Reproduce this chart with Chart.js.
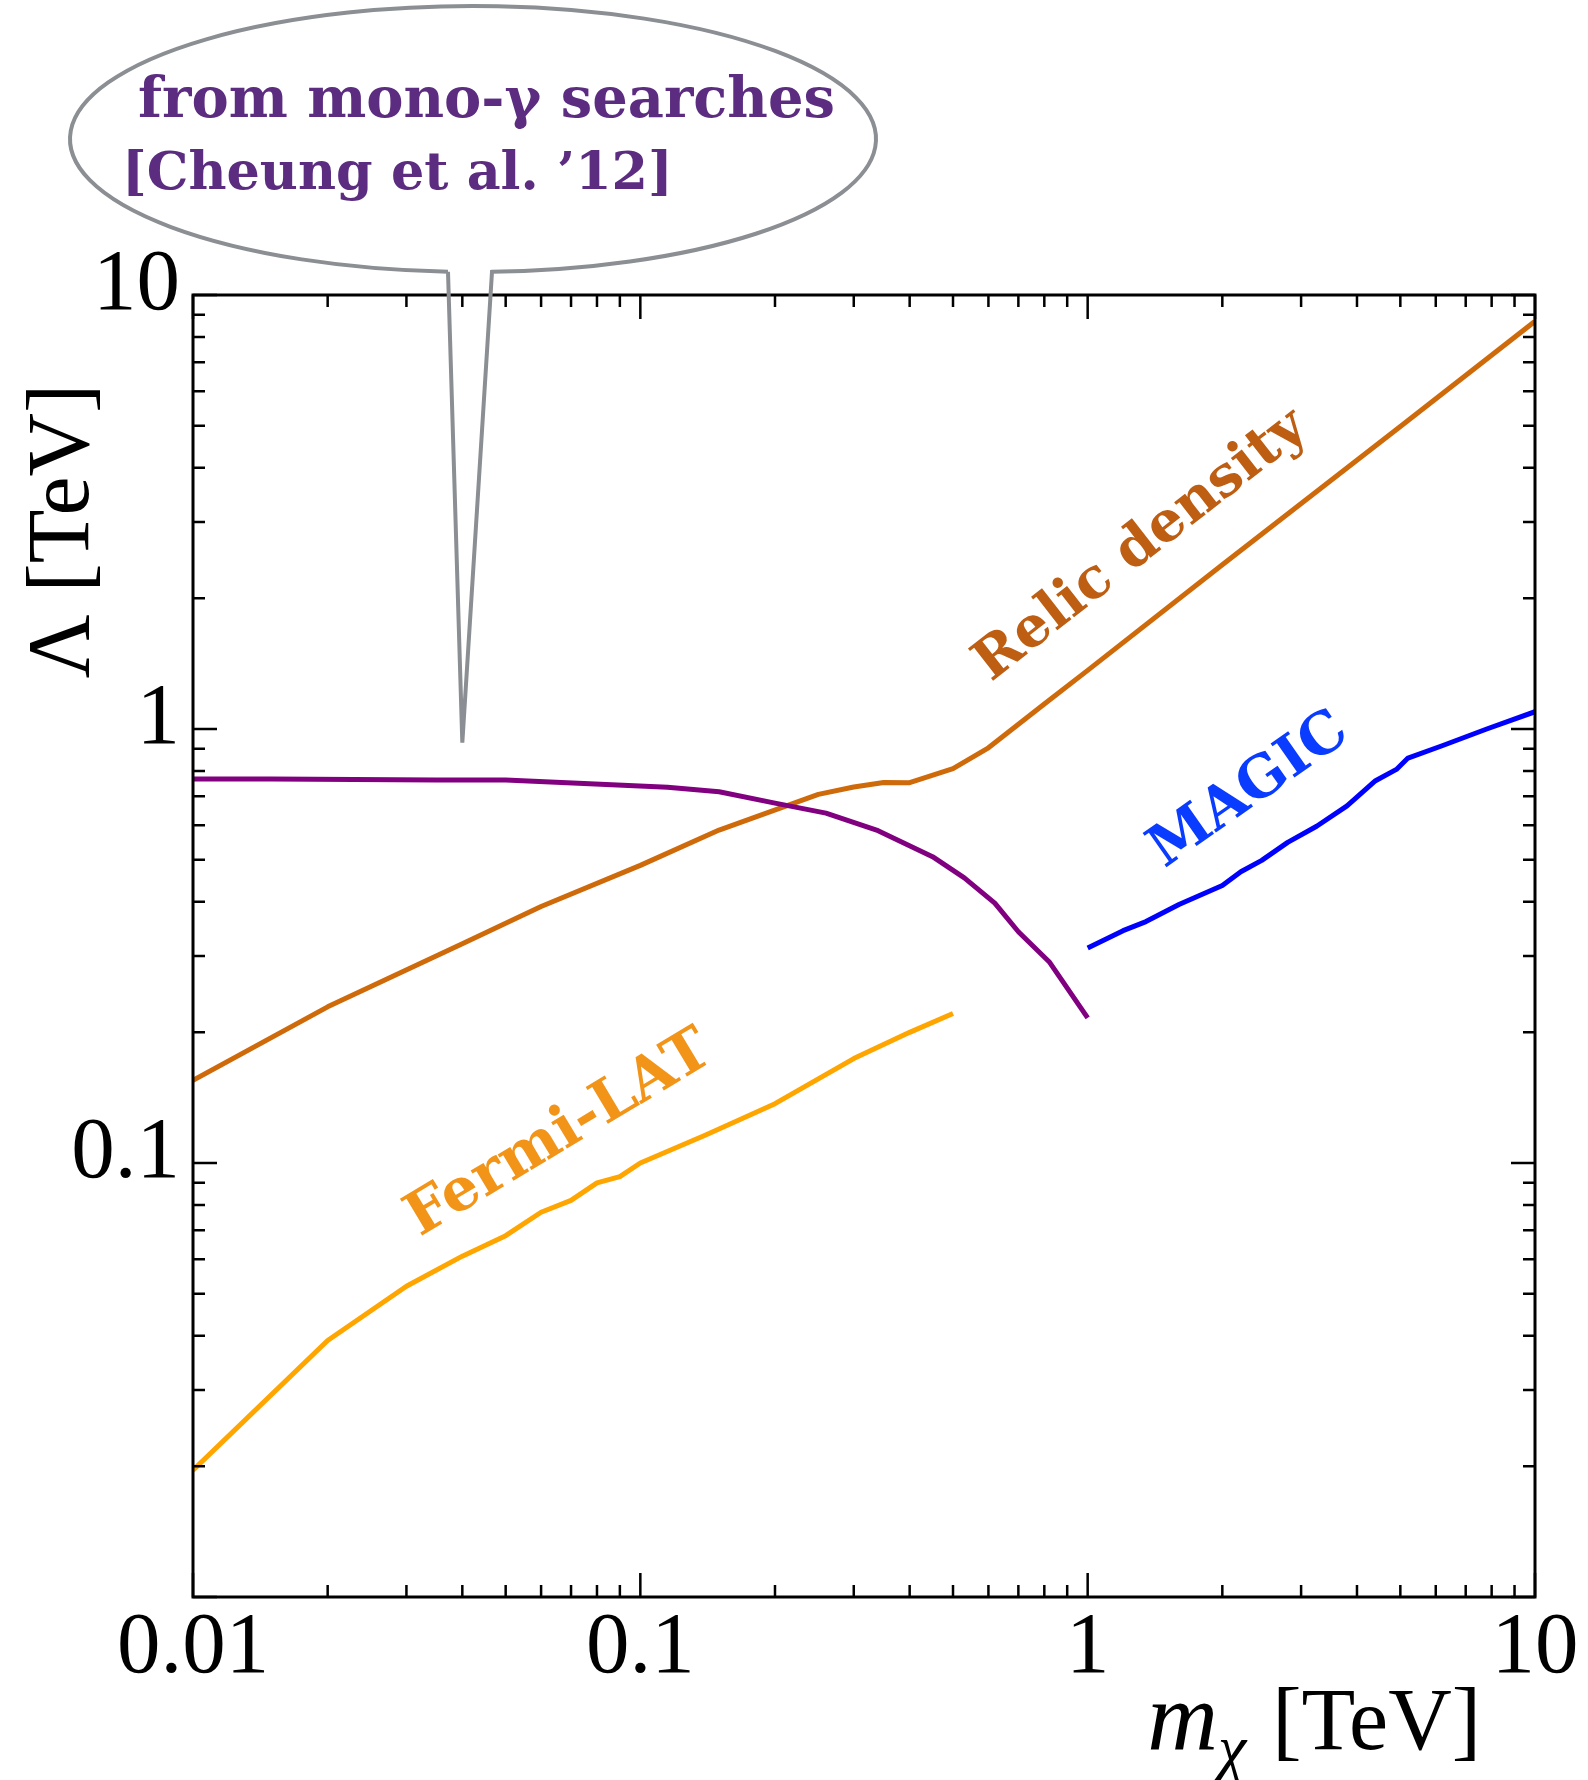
<!DOCTYPE html>
<html>
<head>
<meta charset="utf-8">
<script src="https://cdn.jsdelivr.net/npm/chart.js@4.4.1/dist/chart.umd.min.js"></script>
<style>
  html, body { margin: 0; padding: 0; background: #fff; }
  #wrap { width: 1588px; height: 1780px; }
</style>
</head>
<body>
<div id="wrap"><canvas id="chart" width="1588" height="1780"></canvas></div>
<script>
// mono-photon bound [Cheung et al. '12]
const monoX = [0.01, 0.015, 0.035, 0.05, 0.115, 0.15, 0.2, 0.26, 0.34, 0.45, 0.53, 0.62, 0.7, 0.82, 1.0]
const monoY = [0.767, 0.767, 0.763, 0.763, 0.734, 0.717, 0.675, 0.64, 0.583, 0.508, 0.454, 0.397, 0.341, 0.291, 0.216]

// relic density
const relicX = [0.01, 0.02, 0.04, 0.06, 0.1, 0.15, 0.25, 0.3, 0.35, 0.4, 0.5, 0.6, 0.8, 1, 2, 5, 10]
const relicY = [0.155, 0.229, 0.32, 0.39, 0.485, 0.585, 0.707, 0.735, 0.753, 0.752, 0.81, 0.905, 1.142, 1.365, 2.39, 4.98, 8.7]

// Fermi-LAT
const fermiX = [0.01, 0.02, 0.03, 0.04, 0.05, 0.06, 0.07, 0.08, 0.09, 0.1, 0.14, 0.2, 0.3, 0.4, 0.5]
const fermiY = [0.0196, 0.039, 0.052, 0.061, 0.068, 0.077, 0.082, 0.09, 0.093, 0.1, 0.116, 0.137, 0.174, 0.2, 0.221]

// MAGIC
const magicX = [1.0, 1.2, 1.35, 1.6, 2.0, 2.2, 2.45, 2.8, 3.25, 3.8, 4.4, 4.9, 5.2, 6.2, 7.8, 10]
const magicY = [0.313, 0.343, 0.36, 0.394, 0.436, 0.469, 0.498, 0.548, 0.597, 0.665, 0.76, 0.807, 0.857, 0.915, 1.0, 1.096]

const xTickLabels = ['0.01', '0.1', '1', '10']
const yTickLabels = ['0.1', '1', '10']

// where the bubble points to (data coords)
const bubbleTip = [0.04, 0.93]

const SERIF = '"Liberation Serif", "Times New Roman", serif'
const LABEL_SERIF = '"DejaVu Serif", serif'

function pts(xs, ys) {
  return xs.map((v, i) => ({ x: v, y: ys[i] }))
}

function logTicks(minExp, maxExp) {
  const out = []
  for (let e = minExp; e < maxExp; e++) {
    for (let m = 1; m < 10; m++) out.push(+(m * Math.pow(10, e)).toPrecision(3))
  }
  out.push(Math.pow(10, maxExp))
  return out
}

const isDecade = v => Math.abs(Math.log10(v) - Math.round(Math.log10(v))) < 1e-6
const labelFor = (labels, v) => labels.find(l => Math.abs(+l - v) < 1e-9) || ''

function fitSize(ctx, text, width, style, family) {
  ctx.font = `${style} 100px ${family}`
  return 100 * width / ctx.measureText(text).width
}

function curveLabel(ctx, text, px, py, deg, style, color, width) {
  const size = fitSize(ctx, text, width, style, LABEL_SERIF)
  ctx.save()
  ctx.translate(px, py)
  ctx.rotate(deg * Math.PI / 180)
  ctx.font = `${style} ${size}px ${LABEL_SERIF}`
  ctx.fillStyle = color
  ctx.textAlign = 'center'
  ctx.textBaseline = 'middle'
  ctx.fillText(text, 0, 0)
  ctx.restore()
}

const decor = {
  id: 'decor',
  afterDraw(chart) {
    const { ctx, chartArea: a, scales: { x, y } } = chart
    ctx.save()

    // frame
    ctx.strokeStyle = '#000'
    ctx.lineWidth = 3
    ctx.strokeRect(a.left, a.top, a.right - a.left, a.bottom - a.top)

    // inward ticks on all four sides
    ctx.lineWidth = 2.5
    ctx.beginPath()
    x.ticks.forEach(t => {
      const px = x.getPixelForValue(t.value)
      const len = isDecade(t.value) ? 24 : 12
      ctx.moveTo(px, a.bottom); ctx.lineTo(px, a.bottom - len)
      ctx.moveTo(px, a.top); ctx.lineTo(px, a.top + len)
    })
    y.ticks.forEach(t => {
      const py = y.getPixelForValue(t.value)
      const len = isDecade(t.value) ? 24 : 12
      ctx.moveTo(a.left, py); ctx.lineTo(a.left + len, py)
      ctx.moveTo(a.right, py); ctx.lineTo(a.right - len, py)
    })
    ctx.stroke()

    // axis titles
    ctx.fillStyle = '#000'
    ctx.save()
    ctx.translate(65, 531)
    ctx.rotate(-Math.PI / 2)
    ctx.font = `88px ${SERIF}`
    ctx.textAlign = 'center'
    ctx.textBaseline = 'middle'
    ctx.fillText('Λ [TeV]', 0, 0)
    ctx.restore()

    const base = 1749
    const right = 1481
    ctx.textAlign = 'left'
    ctx.textBaseline = 'alphabetic'
    ctx.font = `88px ${SERIF}`
    const unit = ' [TeV]'
    const wUnit = ctx.measureText(unit).width
    ctx.fillText(unit, right - wUnit, base)
    ctx.font = `italic 64px ${SERIF}`
    const wChi = ctx.measureText('χ').width
    ctx.fillText('χ', right - wUnit - wChi - 4, base + 20)
    ctx.font = `italic 98px ${SERIF}`
    const wM = ctx.measureText('m').width
    ctx.fillText('m', right - wUnit - wChi - 4 - wM, base)

    // curve labels
    curveLabel(ctx, 'Relic density', x.getPixelForValue(1.32), y.getPixelForValue(2.64), -38, 'bold', '#bd5e12', 405)
    curveLabel(ctx, 'MAGIC', x.getPixelForValue(2.3), y.getPixelForValue(0.72), -35, 'bold', '#0a3cff', 228)
    curveLabel(ctx, 'Fermi-LAT', x.getPixelForValue(0.066), y.getPixelForValue(0.116), -31, 'bold', '#f29418', 345)

    // speech bubble
    const tipX = x.getPixelForValue(bubbleTip[0])
    const tipY = y.getPixelForValue(bubbleTip[1])
    const cx = 473, cy = 139, rx = 403, ry = 133
    const tL = Math.acos((448 - cx) / rx)
    const tR = Math.acos((492 - cx) / rx)
    ctx.strokeStyle = '#8b8e92'
    ctx.lineWidth = 4
    ctx.lineJoin = 'miter'
    ctx.beginPath()
    ctx.ellipse(cx, cy, rx, ry, 0, tL, tR, false)
    ctx.lineTo(tipX, tipY)
    ctx.lineTo(cx + rx * Math.cos(tL), cy + ry * Math.sin(tL))
    ctx.stroke()

    ctx.fillStyle = '#5b2c80'
    ctx.textAlign = 'left'
    ctx.textBaseline = 'alphabetic'
    const s1 = fitSize(ctx, 'from mono-γ searches', 697, 'bold', LABEL_SERIF)
    ctx.font = `bold ${s1}px ${LABEL_SERIF}`
    ctx.fillText('from mono-γ searches', 138, 117)
    const s2 = fitSize(ctx, '[Cheung et al. ’12]', 551, 'bold', LABEL_SERIF)
    ctx.font = `bold ${s2}px ${LABEL_SERIF}`
    ctx.fillText('[Cheung et al. ’12]', 122, 189)

    ctx.restore()
  }
}

const lineDs = (label, xs, ys, color) => ({
  label,
  data: pts(xs, ys),
  borderColor: color,
  borderWidth: 5,
  pointRadius: 0,
  tension: 0,
  fill: false,
  borderJoinStyle: 'round',
})

new Chart(document.getElementById('chart'), {
  type: 'line',
  data: {
    datasets: [
      lineDs('mono-γ', monoX, monoY, '#800080'),
      lineDs('Relic density', relicX, relicY, '#cf6a0a'),
      lineDs('Fermi-LAT', fermiX, fermiY, '#ffa500'),
      lineDs('MAGIC', magicX, magicY, '#0000ff'),
    ],
  },
  options: {
    responsive: false,
    animation: false,
    devicePixelRatio: 1,
    layout: { padding: { left: 0, top: 295, right: 53, bottom: 0 } },
    scales: {
      x: {
        type: 'logarithmic',
        min: 0.01,
        max: 10,
        afterBuildTicks: s => { s.ticks = logTicks(-2, 1).map(v => ({ value: v })) },
        afterFit: s => { s.height = 183 },
        grid: { display: false, drawTicks: false },
        border: { display: false },
        ticks: {
          autoSkip: false,
          maxRotation: 0,
          padding: 0,
          color: '#000',
          font: { family: SERIF, size: 87 },
          callback: v => labelFor(xTickLabels, v),
        },
      },
      y: {
        type: 'logarithmic',
        min: 0.01,
        max: 10,
        afterBuildTicks: s => { s.ticks = logTicks(-2, 1).map(v => ({ value: v })) },
        afterFit: s => { s.width = 193 },
        grid: { display: false, drawTicks: false },
        border: { display: false },
        ticks: {
          autoSkip: false,
          padding: 13,
          labelOffset: -9,
          color: '#000',
          font: { family: SERIF, size: 87 },
          callback: v => labelFor(yTickLabels, v),
        },
      },
    },
    plugins: {
      legend: { display: false },
      tooltip: { enabled: false },
    },
  },
  plugins: [decor],
})
</script>
</body>
</html>
